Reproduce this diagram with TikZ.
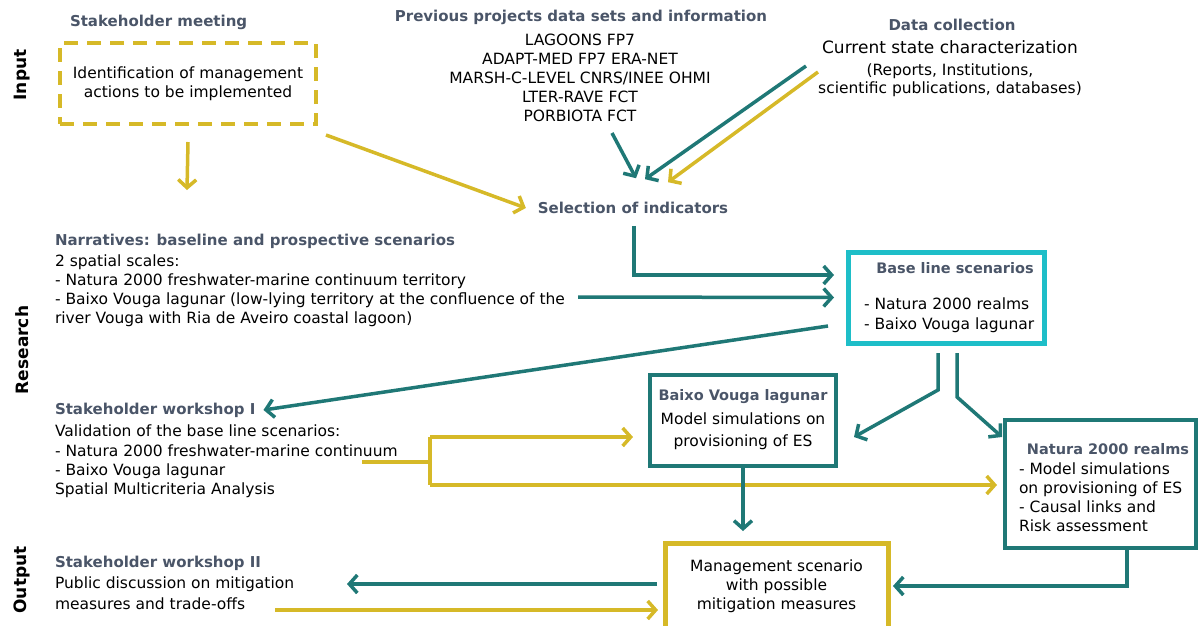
\documentclass[tikz,border=0pt]{standalone}
\usepackage{fontspec}
\setmainfont{DejaVu Sans}
\usetikzlibrary{arrows.meta}
\definecolor{tealc}{HTML}{1F7876}
\definecolor{yelc}{HTML}{D6B928}
\definecolor{cyanc}{HTML}{1EBEC8}
\definecolor{slatec}{HTML}{4A5568}
\begin{document}
\begin{tikzpicture}[x=1pt,y=-1pt,
  every node/.style={inner sep=0pt,outer sep=0pt},
  body/.style={font=\fontsize{15.5}{19}\selectfont,text=black},
  ttl/.style={font=\fontsize{15}{19}\selectfont\bfseries,text=slatec},
  bttl/.style={font=\fontsize{14.5}{19}\selectfont\bfseries,text=slatec},
  side/.style={rotate=90,font=\fontsize{17}{20}\selectfont\bfseries,text=black},
  tline/.style={draw=tealc,line width=3.5pt},
  yline/.style={draw=yelc,line width=3.5pt},
  tarrow/.style={tline,-{Straight Barb[length=8pt,width=18pt]}},
  yarrow/.style={yline,-{Straight Barb[length=8pt,width=18pt]}},
  tbox/.style={draw=tealc,line width=4pt},
]
\useasboundingbox (0,0) rectangle (1200,625);

% side labels
\node[side] (lin) at (22,75) {Input};
\node[side] (lres) at (22,350) {Research};
\node[side] (lout) at (22,580) {Output};

% Input row
\node[ttl,anchor=west] (smt) at (70,22) {Stakeholder meeting};
\node[draw=yelc,line width=4.5pt,dash pattern=on 14pt off 9pt,minimum width=256pt,minimum height=81pt,align=center,body] (idb) at (188,83.5) {Identification of management\\actions to be implemented};

\node[ttl] (ppt) at (581,17) {Previous projects data sets and information};
\node[body,align=center] (ppl) at (580,78) {LAGOONS FP7\\ADAPT-MED FP7 ERA-NET\\MARSH-C-LEVEL CNRS/INEE OHMI\\LTER-RAVE FCT\\PORBIOTA FCT};

\node[ttl] (dct) at (952,25) {Data collection};
\node[font=\fontsize{17}{20}\selectfont] (dcc) at (950,47) {Current state characterization};
\node[font=\fontsize{15.5}{18.5}\selectfont,align=center] (dcl) at (950,80) {(Reports, Institutions,\\scientific publications, databases)};

\node[ttl] (sel) at (633,208) {Selection of indicators};

% Research row
\node[ttl,anchor=west] (nart) at (55,241) {Narratives: baseline and prospective scenarios};
\node[body,align=left,anchor=north west] (narb) at (55,255) {2 spatial scales:\\- Natura 2000 freshwater-marine continuum territory\\- Baixo Vouga lagunar (low-lying territory at the confluence of the\\river Vouga with Ria de Aveiro coastal lagoon)};

\node[draw=cyanc,line width=5pt,minimum width=196pt,minimum height=91pt] (bls) at (946,297.5) {};
\node[bttl] (blst) at (955,268) {Base line scenarios};
\node[body,align=left,anchor=west,font=\fontsize{15.5}{20.5}\selectfont] (blsl) at (864,315) {- Natura 2000 realms\\- Baixo Vouga lagunar};

\node[ttl,anchor=west] (ws1t) at (55,410) {Stakeholder workshop I};
\node[body,align=left,anchor=north west,font=\fontsize{15.5}{19.3}\selectfont] (ws1b) at (55,425) {Validation of the base line scenarios:\\- Natura 2000 freshwater-marine continuum\\- Baixo Vouga lagunar\\Spatial Multicriteria Analysis};

\node[tbox,minimum width=186pt,minimum height=91pt] (bvl) at (743,420.5) {};
\node[bttl] (bvlt) at (743,397) {Baixo Vouga lagunar};
\node[body,align=center,font=\fontsize{15.5}{22}\selectfont] (bvlb) at (743,431.5) {Model simulations on\\provisioning of ES};

\node[tbox,minimum width=191pt,minimum height=128pt] (nat) at (1100.5,484) {};
\node[bttl] (natt) at (1108,449) {Natura 2000 realms};
\node[body,align=left,anchor=north west] (natb) at (1019,463) {- Model simulations\\on provisioning of ES\\- Causal links and\\Risk assessment};

% Output row
\node[ttl,anchor=west] (ws2t) at (55,563) {Stakeholder workshop II};
\node[body,align=left,anchor=north west,font=\fontsize{15.5}{21}\selectfont] (ws2b) at (55,577) {Public discussion on mitigation\\measures and trade-offs};

\node[draw=yelc,line width=5pt,minimum width=223pt,minimum height=86pt] (mgt) at (776.5,586) {};
\node[body,align=center] (mgtt) at (776.5,586) {Management scenario\\with possible\\mitigation measures};

% connectors - input
\coordinate (idbdown) at (187,190);
\draw[yarrow] ([yshift=-18pt]idb.south) -- (idbdown);
\draw[yarrow] (326,135) -- ([xshift=-12pt]sel.west);
\draw[tarrow] (612,133) -- ([xshift=3pt,yshift=24pt]sel.north);
\draw[tarrow] (806,66) -- ([xshift=12pt,yshift=23pt]sel.north);
\draw[yarrow] (818,72) -- ([xshift=35pt,yshift=20pt]sel.north);

% research
\draw[tarrow] ([xshift=1pt,yshift=-12pt]sel.south) |- ([xshift=-14pt,yshift=22.5pt]bls.west);
\draw[tarrow] (578,297) -- ([xshift=-14pt]bls.west);
\draw[tarrow] ([xshift=-20pt,yshift=-28.5pt]bls.west) -- ([xshift=8pt]ws1t.east);
\draw[tarrow] ([xshift=-8pt,yshift=-10pt]bls.south) -- ++(0,37) -- ([xshift=18pt,yshift=-16.5pt]bvl.east);
\draw[tarrow] ([xshift=11pt,yshift=-10pt]bls.south) -- ++(0,44) -- ([xshift=-3pt,yshift=47pt]nat.west);

\coordinate (brk) at (430,462);
\draw[yline] (362,462) -- (brk);
\draw[yline] (430,437) -- (430,485);
\draw[yarrow] (430,437) -- ([xshift=-17pt,yshift=-16.5pt]bvl.west);
\draw[yarrow] (430,485) -- ([xshift=-8pt,yshift=-1pt]nat.west);

\draw[tarrow] ([yshift=-2pt]bvl.south) -- ([xshift=-33.5pt,yshift=12pt]mgt.north);
\draw[tarrow] ([xshift=26.5pt,yshift=-2pt]nat.south) |- ([xshift=5pt]mgt.east);
\draw[tarrow] ([xshift=-8pt,yshift=2pt]mgt.west) -- (347,584);
\draw[yarrow] (275,610) -- ([xshift=-7pt,yshift=-24pt]mgt.west);
\end{tikzpicture}
\end{document}
